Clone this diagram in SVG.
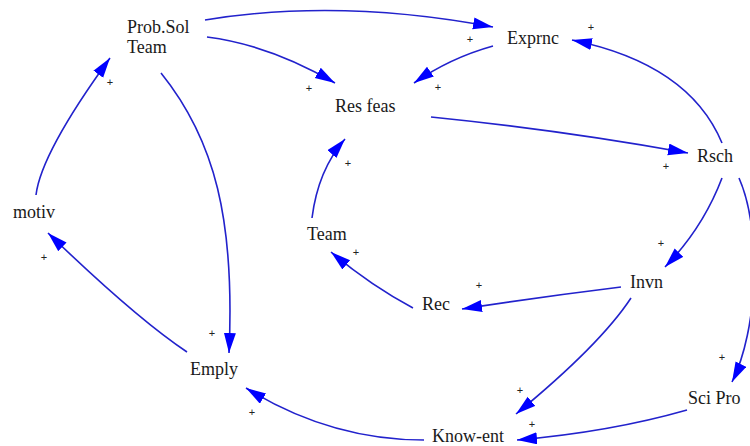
<svg xmlns="http://www.w3.org/2000/svg" width="750" height="446" viewBox="0 0 750 446">
  <defs>
    <marker id="arrow" markerUnits="userSpaceOnUse" markerWidth="22" markerHeight="14" refX="20" refY="6" orient="auto">
      <path d="M0,0 L20,6 L0,12 Z" fill="#0000ff"/>
    </marker>
    <style>
      .link { fill: none; stroke: #2222cc; stroke-width: 1.6; marker-end: url(#arrow); }
      .label { font-family: "Liberation Serif", "Times New Roman", serif; font-size: 18px; fill: #1a1a1a; }
      .sign { font-family: "Liberation Sans", Arial, sans-serif; font-size: 11px; fill: #222; text-anchor: middle; }
    </style>
  </defs>
  <rect width="750" height="446" fill="#ffffff"/>

  <!-- causal links -->
  <g id="connectors">
    <path class="link" d="M205,20 Q340,-2 493,27"/>
    <path class="link" d="M207,37 Q270,45 335,83"/>
    <path class="link" d="M493,46 Q450,58 414,83"/>
    <path class="link" d="M431,117 Q560,130 688,153"/>
    <path class="link" d="M722,143 Q689,64 572,40"/>
    <path class="link" d="M722,178 Q703,228 665,267"/>
    <path class="link" d="M739,178 C762,230 758,330 732,382"/>
    <path class="link" d="M621,287 Q540,297 462,309"/>
    <path class="link" d="M631,298 Q600,345 516,414"/>
    <path class="link" d="M687,410 Q610,432 517,440"/>
    <path class="link" d="M424,440 Q330,440 246,388"/>
    <path class="link" d="M187,352 Q136,318 48,233"/>
    <path class="link" d="M36,195 Q41,153 110,58"/>
    <path class="link" d="M161,73 C215,140 235,220 229,353"/>
    <path class="link" d="M312,218 Q318,170 345,139"/>
    <path class="link" d="M413,308 Q370,285 331,252"/>
  </g>

  <!-- polarity signs -->
  <g id="polarities">
    <text class="sign" x="470" y="43">+</text>
    <text class="sign" x="591" y="31">+</text>
    <text class="sign" x="438" y="91">+</text>
    <text class="sign" x="309" y="92">+</text>
    <text class="sign" x="110" y="86">+</text>
    <text class="sign" x="666" y="170">+</text>
    <text class="sign" x="348" y="167">+</text>
    <text class="sign" x="356" y="256">+</text>
    <text class="sign" x="479" y="289">+</text>
    <text class="sign" x="661" y="247">+</text>
    <text class="sign" x="722" y="361">+</text>
    <text class="sign" x="520" y="394">+</text>
    <text class="sign" x="532" y="428">+</text>
    <text class="sign" x="44" y="261">+</text>
    <text class="sign" x="212" y="337">+</text>
    <text class="sign" x="252" y="416">+</text>
  </g>

  <!-- variables -->
  <g id="prob-sol-team"><text class="label" x="127" y="33">Prob.Sol</text><text class="label" x="127" y="53">Team</text></g>
  <g id="exprnc"><text class="label" x="507" y="44">Exprnc</text></g>
  <g id="res-feas"><text class="label" x="335" y="112">Res feas</text></g>
  <g id="rsch"><text class="label" x="697" y="162">Rsch</text></g>
  <g id="motiv"><text class="label" x="13" y="218">motiv</text></g>
  <g id="team"><text class="label" x="307" y="240">Team</text></g>
  <g id="emply"><text class="label" x="190" y="375">Emply</text></g>
  <g id="rec"><text class="label" x="422" y="310">Rec</text></g>
  <g id="invn"><text class="label" x="630" y="288">Invn</text></g>
  <g id="sci-pro"><text class="label" x="688" y="404">Sci Pro</text></g>
  <g id="know-ent"><text class="label" x="432" y="442">Know-ent</text></g>
</svg>
